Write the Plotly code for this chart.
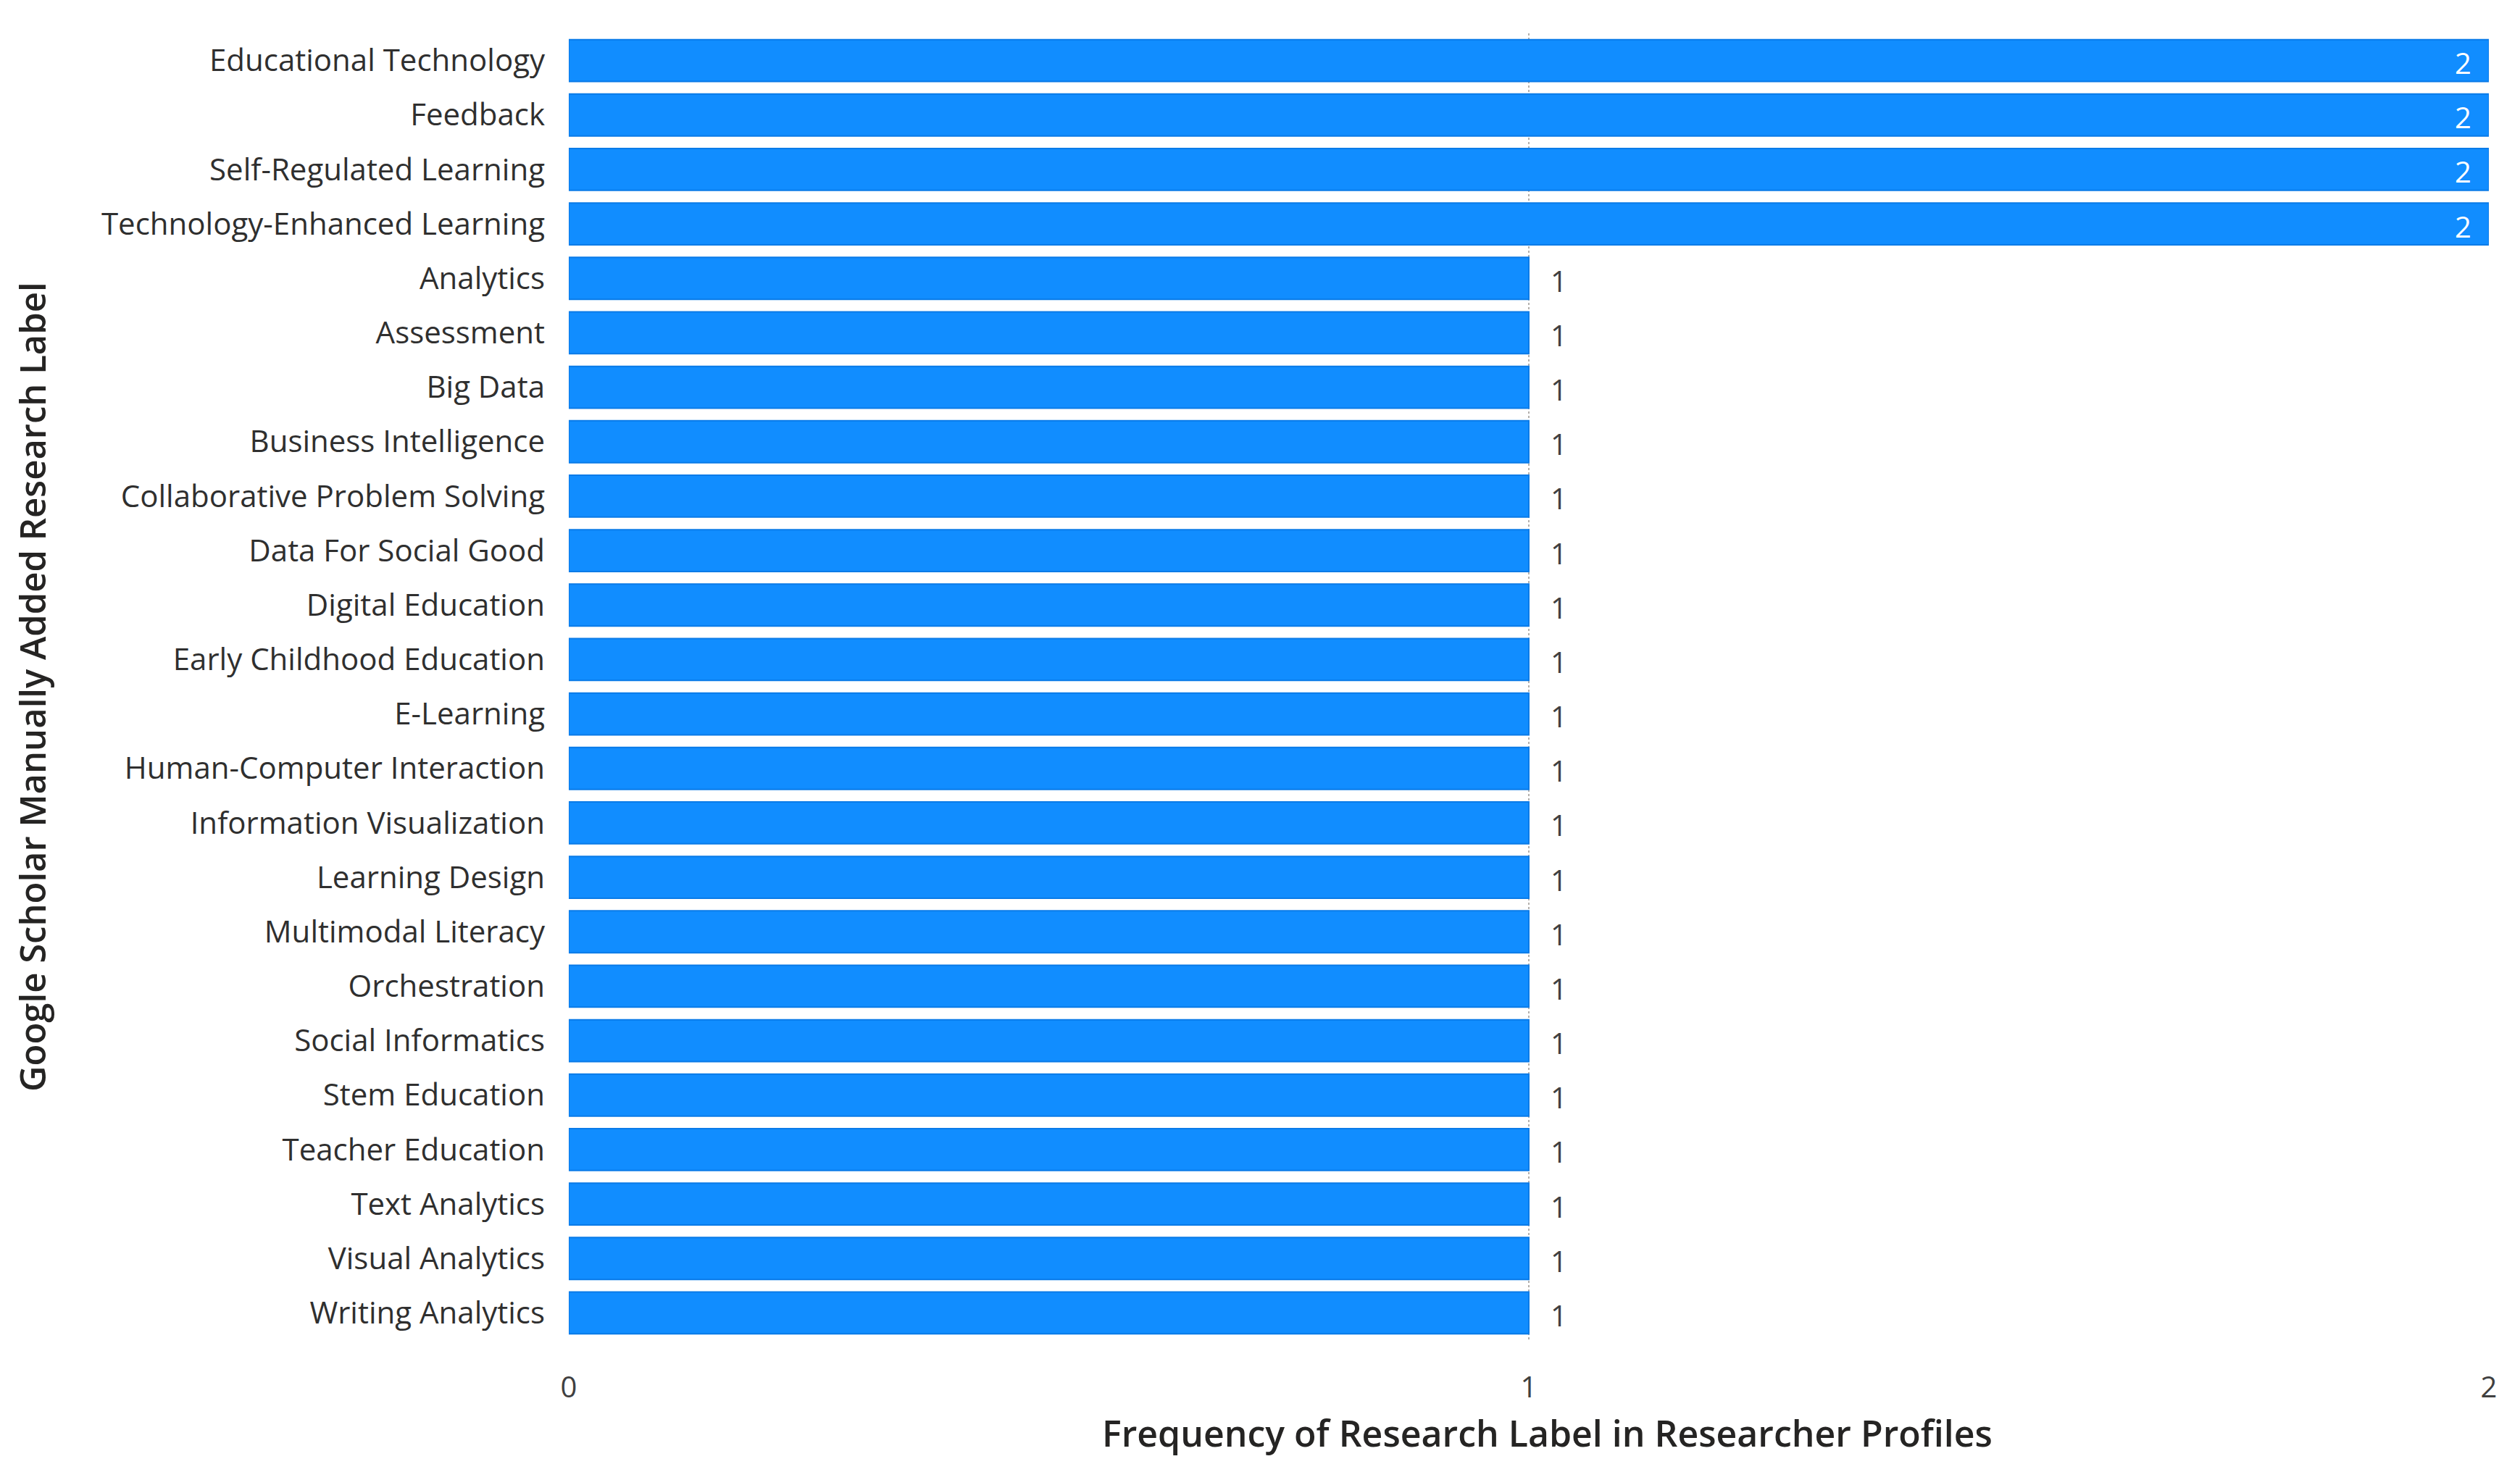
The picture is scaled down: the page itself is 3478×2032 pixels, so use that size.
import plotly.graph_objects as go

labels = [
    "Educational Technology", "Feedback", "Self-Regulated Learning",
    "Technology-Enhanced Learning", "Analytics", "Assessment", "Big Data",
    "Business Intelligence", "Collaborative Problem Solving",
    "Data For Social Good", "Digital Education", "Early Childhood Education",
    "E-Learning", "Human-Computer Interaction", "Information Visualization",
    "Learning Design", "Multimodal Literacy", "Orchestration",
    "Social Informatics", "Stem Education", "Teacher Education",
    "Text Analytics", "Visual Analytics", "Writing Analytics",
]
counts = [2, 2, 2, 2, 1, 1, 1, 1, 1, 1, 1, 1, 1, 1, 1, 1, 1, 1, 1, 1, 1, 1, 1, 1]
x_ticks = [0, 1, 2]

x_title = "Frequency of Research Label in Researcher Profiles"
y_title = "Google Scholar Manually Added Research Label"

FONT = "Open Sans"
BAR = "#118DFF"
max_val = max(counts)

fig = go.Figure()
fig.add_trace(go.Bar(
    x=counts, y=labels, orientation="h",
    marker=dict(color=BAR, line=dict(color="#0A7BE8", width=2)),
    hoverinfo="x+y",
))

annotations = []
for lab, v in zip(labels, counts):
    inside = v == max_val
    annotations.append(dict(
        x=v, y=lab, xref="x", yref="y",
        text=str(v), showarrow=False,
        xanchor="right" if inside else "left",
        xshift=-22 if inside else 28,
        yshift=-3,
        font=dict(family=FONT, size=40, color="white" if inside else "#404040"),
    ))

annotations.append(dict(
    text=y_title, xref="paper", yref="paper", x=0, y=0.5,
    xanchor="center", yanchor="middle", xshift=-741, textangle=-90,
    showarrow=False,
    font=dict(family=FONT, size=49, color="#252423", weight=600),
))
annotations.append(dict(
    text=x_title, xref="paper", yref="paper", x=0.5, y=0,
    xanchor="center", yanchor="middle", yshift=-128, xshift=25,
    showarrow=False,
    font=dict(family=FONT, size=50, color="#252423", weight=600),
))

fig.update_layout(
    width=3462, height=2016,
    margin=dict(l=777, r=35, t=38, b=174),
    paper_bgcolor="white", plot_bgcolor="white",
    bargap=0.23,
    showlegend=False,
    annotations=annotations,
    font=dict(family=FONT),
    xaxis=dict(
        range=[0, 2], tickvals=x_ticks, ticktext=[str(t) for t in x_ticks],
        showgrid=True, gridcolor="#B3B0AD", griddash="dot", gridwidth=2,
        zeroline=False, showline=False,
        tickfont=dict(family=FONT, size=40, color="#404040"),
        ticks="", ticklabelstandoff=38,
    ),
    yaxis=dict(
        categoryorder="array", categoryarray=labels, autorange="reversed",
        showgrid=False, zeroline=False, showline=False, ticks="",
        tickfont=dict(family=FONT, size=42, color="#2f2f2f"),
        ticklabelstandoff=32,
    ),
)

fig.write_html("out.html")
